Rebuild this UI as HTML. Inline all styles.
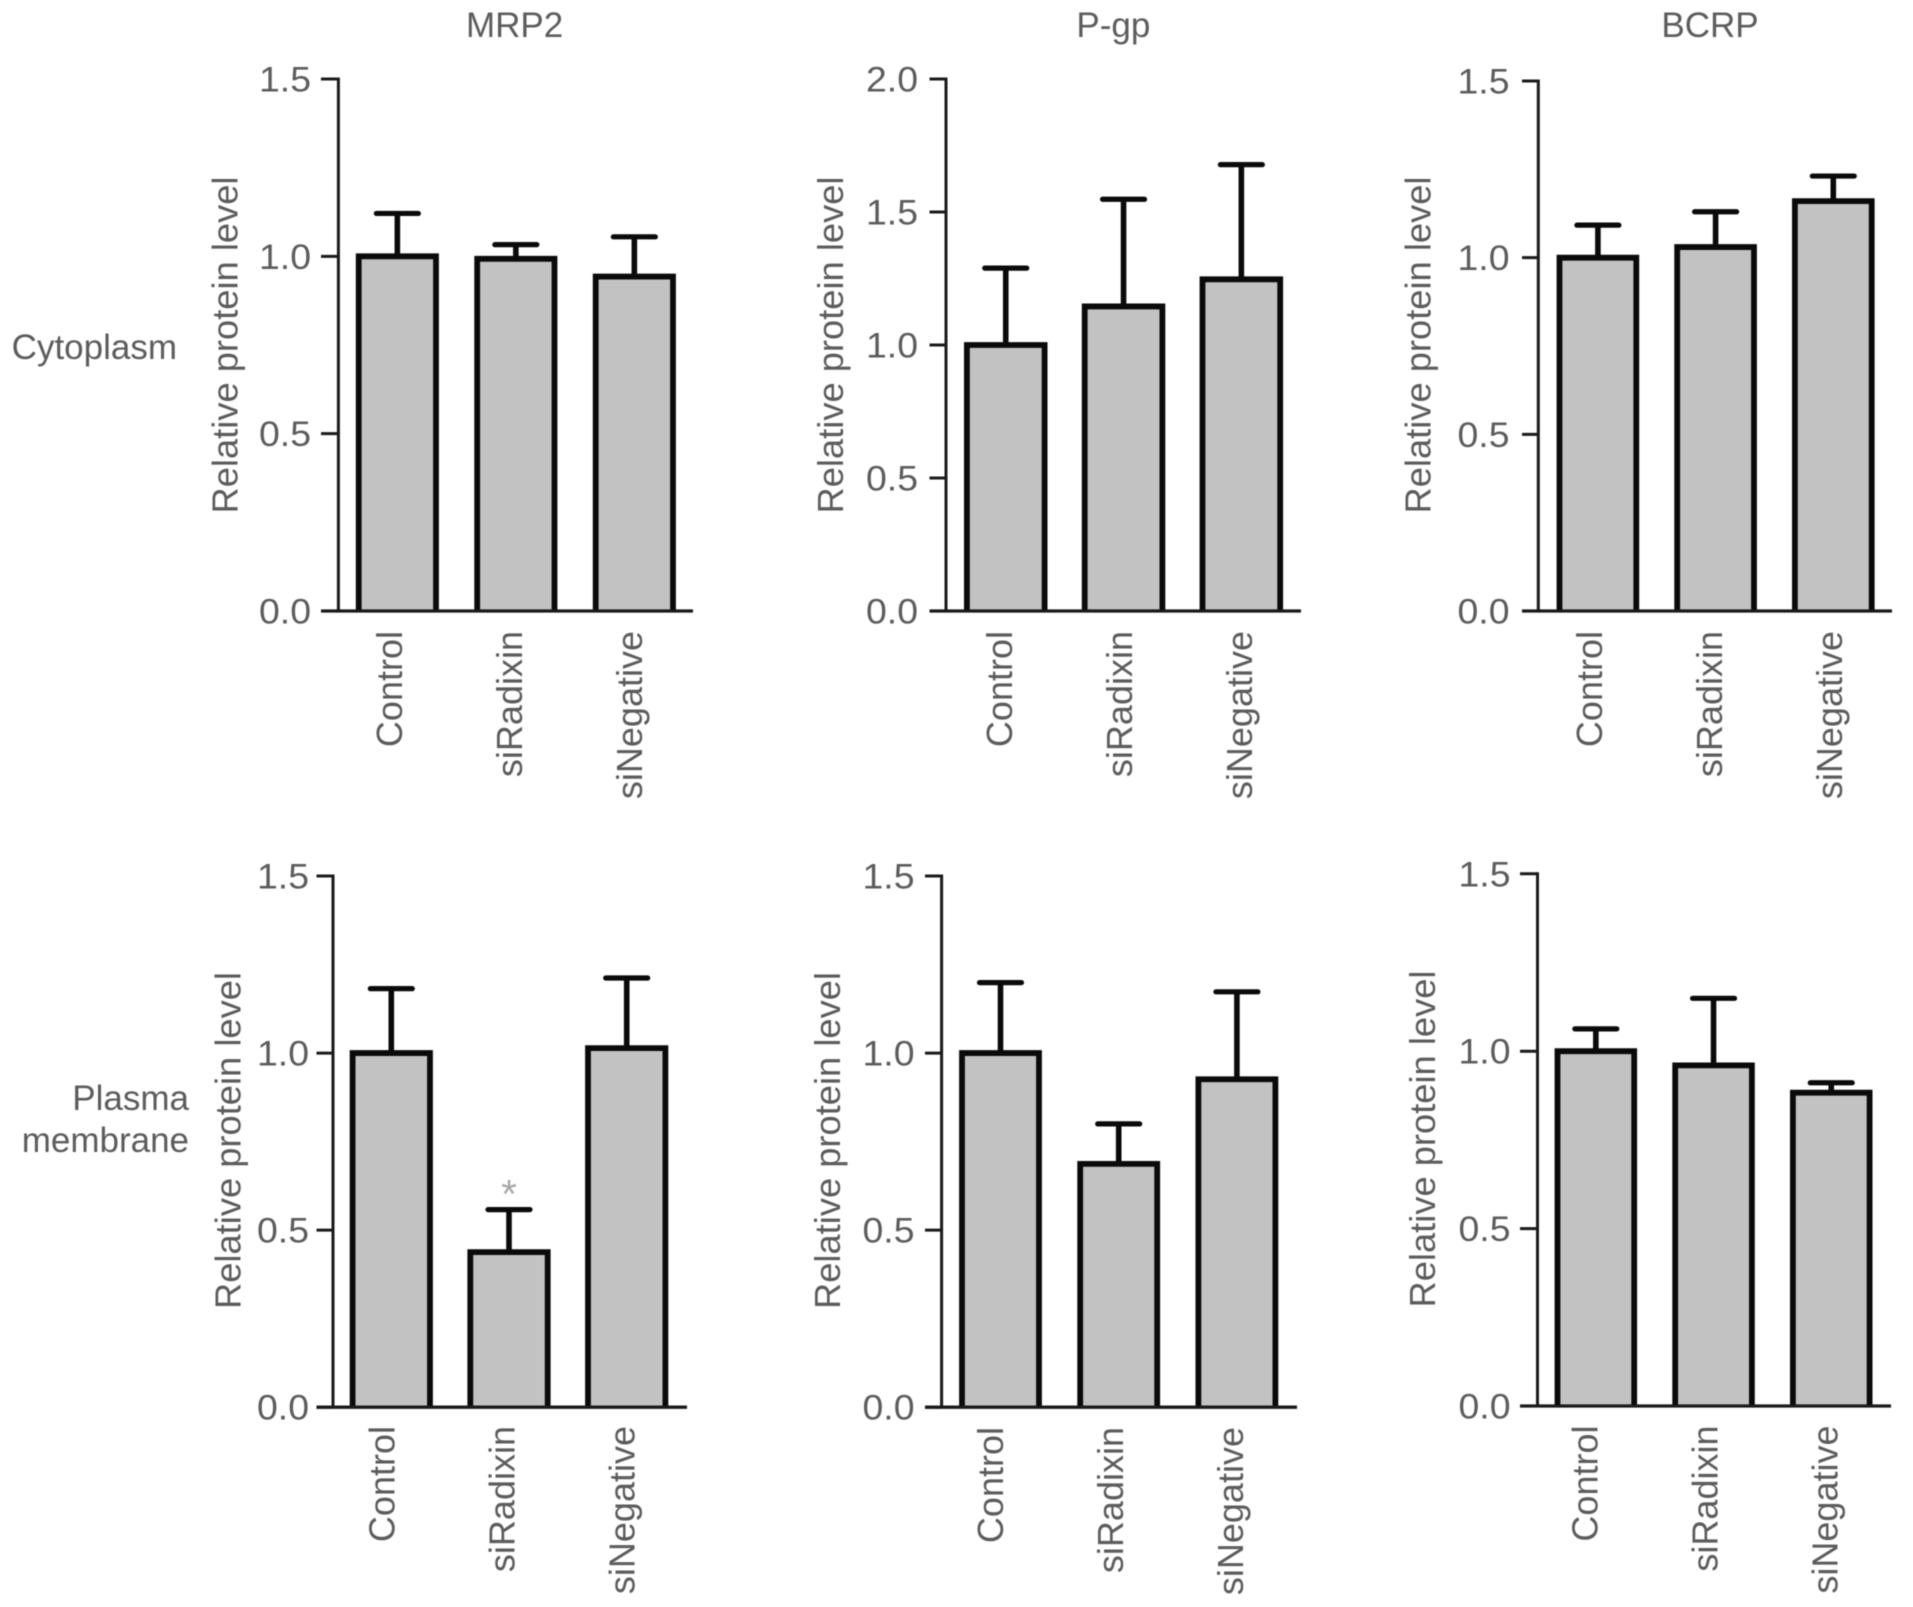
<!DOCTYPE html>
<html lang="en">
<head>
<meta charset="utf-8">
<title>Relative protein levels of MRP2, P-gp and BCRP</title>
<style>
html,body{margin:0;padding:0;background:#fff;width:1913px;height:1607px;overflow:hidden}
svg{display:block;filter:blur(0.6px)}
text{font-family:"Liberation Sans",Arial,sans-serif;fill:#5c5c5c}
</style>
</head>
<body>
<svg id="figure" xmlns="http://www.w3.org/2000/svg" width="1913" height="1607" viewBox="0 0 1913 1607">
  <rect width="1913" height="1607" fill="#fff"/>
  <text x="514.6" y="37" font-size="35" text-anchor="middle">MRP2</text>
  <text x="1113.4" y="37" font-size="35" text-anchor="middle">P-gp</text>
  <text x="1710" y="37" font-size="35" text-anchor="middle">BCRP</text>
  <text x="177" y="359" font-size="35" text-anchor="end">Cytoplasm</text>
  <text x="189" y="1110" font-size="35" text-anchor="end">Plasma</text>
  <text x="189" y="1152" font-size="35" text-anchor="end">membrane</text>
</svg>
<script>
const categories = ['Control', 'siRadixin', 'siNegative'];
const yAxisTitle = 'Relative protein level';
const ticksToOnePointFive = [0, 0.5, 1.0, 1.5];
const ticksToTwo = [0, 0.5, 1.0, 1.5, 2.0];

const mrp2CytoplasmMeans = [1.0, 0.993, 0.943];
const mrp2CytoplasmErrorTops = [1.121, 1.033, 1.055];
const pgpCytoplasmMeans = [1.0, 1.145, 1.247];
const pgpCytoplasmErrorTops = [1.289, 1.548, 1.678];
const bcrpCytoplasmMeans = [1.0, 1.03, 1.16];
const bcrpCytoplasmErrorTops = [1.092, 1.13, 1.231];
const mrp2MembraneMeans = [1.0, 0.438, 1.014];
const mrp2MembraneErrorTops = [1.182, 0.558, 1.212];
const pgpMembraneMeans = [1.0, 0.687, 0.926];
const pgpMembraneErrorTops = [1.199, 0.80, 1.173];
const bcrpMembraneMeans = [1.0, 0.96, 0.883];
const bcrpMembraneErrorTops = [1.063, 1.149, 0.911];

const panels = [
  {name:'mrp2-cytoplasm', means:mrp2CytoplasmMeans, tops:mrp2CytoplasmErrorTops, ticks:ticksToOnePointFive,
   axisX:338.4, yTop:79, yBase:611, baseL:321, baseR:693, barL:355.8, barW:83.1, step:118.5, tickR:311, titleX:237.5, titleY:345, labelX:402, labelY:631},
  {name:'p-gp-cytoplasm', means:pgpCytoplasmMeans, tops:pgpCytoplasmErrorTops, ticks:ticksToTwo,
   axisX:946, yTop:79, yBase:611, baseL:929.5, baseR:1301, barL:964, barW:83.5, step:117.8, tickR:918, titleX:843, titleY:345, labelX:1012, labelY:631},
  {name:'bcrp-cytoplasm', means:bcrpCytoplasmMeans, tops:bcrpCytoplasmErrorTops, ticks:ticksToOnePointFive,
   axisX:1538.3, yTop:81, yBase:611, baseL:1522, baseR:1892, barL:1556.6, barW:82.6, step:117.7, tickR:1509.5, titleX:1430.5, titleY:345, labelX:1602, labelY:631},
  {name:'mrp2-membrane', means:mrp2MembraneMeans, tops:mrp2MembraneErrorTops, ticks:ticksToOnePointFive,
   axisX:333, yTop:876, yBase:1407.2, baseL:316.5, baseR:687, barL:349.7, barW:83.2, step:117.7, tickR:309, titleX:240.5, titleY:1140.5, labelX:394.5, labelY:1426},
  {name:'p-gp-membrane', means:pgpMembraneMeans, tops:pgpMembraneErrorTops, ticks:ticksToOnePointFive,
   axisX:941.6, yTop:876, yBase:1407.2, baseL:925, baseR:1297, barL:959.1, barW:82.8, step:118.2, tickR:914.5, titleX:840, titleY:1140.5, labelX:1002.9, labelY:1427},
  {name:'bcrp-membrane', means:bcrpMembraneMeans, tops:bcrpMembraneErrorTops, ticks:ticksToOnePointFive,
   axisX:1537.5, yTop:873.8, yBase:1406, baseL:1520, baseR:1891, barL:1554.6, barW:82.5, step:117.7, tickR:1510.5, titleX:1435, titleY:1139, labelX:1597.6, labelY:1425.5}
];

const SVG_NS = 'http://www.w3.org/2000/svg';
const figure = document.getElementById('figure');

function make(tag, attrs, parent) {
  const el = document.createElementNS(SVG_NS, tag);
  for (const key in attrs) el.setAttribute(key, attrs[key]);
  parent.appendChild(el);
  return el;
}

panels.forEach(function (p) {
  const yMax = p.ticks[p.ticks.length - 1];
  const yScale = function (v) { return p.yBase - (v / yMax) * (p.yBase - p.yTop); };
  const xLeft = function (i) { return p.barL + i * p.step; };

  const group = make('g', {}, figure);
  
  

  categories.forEach(function (cat, i) {
    const inset = 2.9;
    const left = xLeft(i) + inset;
    const right = xLeft(i) + p.barW - inset;
    const bar = make('path', {
      d: 'M' + left + ' ' + p.yBase + ' V' + yScale(p.means[i]) + ' H' + right + ' V' + p.yBase,
      fill: '#c2c2c2', stroke: '#0a0a0a', 'stroke-width': 5.8
    }, group);
    
    

    const cx = xLeft(i) + p.barW / 2;
    const stem = make('line', {
      x1: cx, x2: cx, y1: yScale(p.means[i]), y2: yScale(p.tops[i]),
      stroke: '#0a0a0a', 'stroke-width': 5.6
    }, group);
    
    

    const cap = make('line', {
      x1: cx - 21, x2: cx + 21, y1: yScale(p.tops[i]), y2: yScale(p.tops[i]),
      stroke: '#0a0a0a', 'stroke-width': 5.2, 'stroke-linecap': 'round'
    }, group);
    
    

    const lx = p.labelX + i * 120;
    const label = make('text', {
      x: lx, y: p.labelY, 'font-size': 36, 'text-anchor': 'end',
      transform: 'rotate(-90 ' + lx + ' ' + p.labelY + ')'
    }, group);
    label.textContent = cat;
    
    
  });

  const yAxis = make('line', {
    x1: p.axisX, x2: p.axisX, y1: p.yTop - 1.5, y2: p.yBase,
    stroke: '#1a1a1a', 'stroke-width': 3
  }, group);
  
  

  const xAxis = make('line', {
    x1: p.baseL, x2: p.baseR, y1: p.yBase, y2: p.yBase,
    stroke: '#1a1a1a', 'stroke-width': 3.3
  }, group);
  
  

  p.ticks.forEach(function (t) {
    const tick = make('line', {
      x1: p.baseL, x2: p.axisX, y1: yScale(t), y2: yScale(t),
      stroke: '#1a1a1a', 'stroke-width': 3
    }, group);
    
    

    const tl = make('text', {
      x: p.tickR, y: yScale(t) + 12.5, 'font-size': 35, 'text-anchor': 'end',
      textLength: 52, lengthAdjust: 'spacingAndGlyphs'
    }, group);
    tl.textContent = t.toFixed(1);
    
    
  });

  const title = make('text', {
    x: p.titleX, y: p.titleY, 'font-size': 36.3, 'text-anchor': 'middle',
    transform: 'rotate(-90 ' + p.titleX + ' ' + p.titleY + ')'
  }, group);
  title.textContent = yAxisTitle;
  
  

  if (p.name === 'mrp2-membrane') {
    const star = make('text', {
      x: xLeft(1) + p.barW / 2, y: yScale(p.tops[1]) - 2,
      'font-size': 40, 'text-anchor': 'middle', style: 'fill:#a8a8a8'
    }, group);
    star.textContent = '*';
    
    
  }
});
</script>
</body>
</html>
